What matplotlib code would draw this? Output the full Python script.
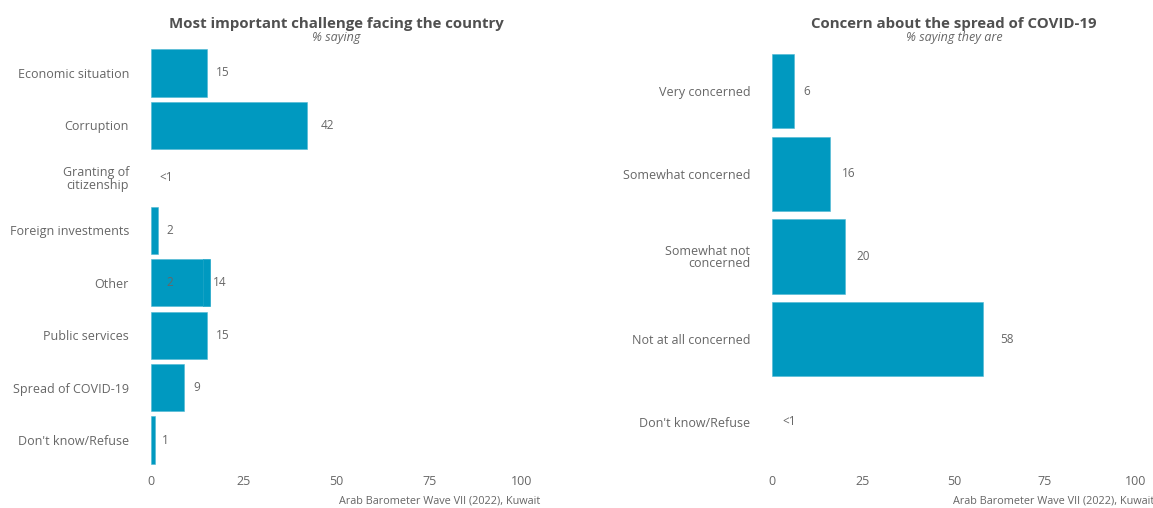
import matplotlib
matplotlib.use("Agg")
import matplotlib.pyplot as plt

plt.rcParams['font.family'] = ['Open Sans', 'DejaVu Sans']

# left panel data
challenges = ["Economic situation", "Corruption", "Granting of\ncitizenship",
              "Foreign investments", "Other", "Public services",
              "Spread of COVID-19", "Don't know/Refuse"]
challenge_vals = [15, 42, 0.3, 2, 14, 15, 9, 1]
challenge_lbls = ["15", "42", "<1", "2", "14", "15", "9", "1"]
# "Other" has a second stacked piece
other_extra = 2
other_extra_lbl = "2"

# right panel data
concern = ["Very concerned", "Somewhat concerned", "Somewhat not\nconcerned",
           "Not at all concerned", "Don't know/Refuse"]
concern_vals = [6, 16, 20, 58, 0.3]
concern_lbls = ["6", "16", "20", "58", "<1"]

ticks = [0, 25, 50, 75, 100]
bar_col = '#0099c0'
edge_col = '#4db8d3'
txt_col = '#666666'
title_col = '#505050'
caption = "Arab Barometer Wave VII (2022), Kuwait"

fig = plt.figure(figsize=(11.53, 5.08), dpi=100)
ax1 = fig.add_axes([0.1149, 0.0719, 0.3539, 0.8465])
ax2 = fig.add_axes([0.6538, 0.0719, 0.3471, 0.8465])


def panel(ax, cats, vals, lbls, title, sub, offset):
    n = len(cats)
    y = list(range(n))
    for yi, v, l in zip(y, vals, lbls):
        if l != "<1":
            ax.barh(yi, v, height=0.9, color=bar_col, edgecolor=edge_col, linewidth=0.4)
        ax.text(v + offset + 0.04 * v, yi, l, ha='left', va='center',
                fontsize=8.5, color=txt_col)
    ax.set_yticks(y)
    ax.set_yticklabels(cats, fontsize=9, color=txt_col, linespacing=0.95,
                       multialignment='right')
    ax.set_xticks(ticks)
    ax.set_xticklabels([str(t) for t in ticks], fontsize=9, color=txt_col)
    ax.set_xlim(-5, 105)
    ax.set_ylim(n - 0.4, -0.6)
    ax.tick_params(length=0, pad=2.5)
    for s in ax.spines.values():
        s.set_visible(False)
    ax.text(0.5, 1.024, title, transform=ax.transAxes, ha='center', va='bottom',
            fontsize=10.8, fontweight='bold', color=title_col)
    ax.text(0.5, 0.995, sub, transform=ax.transAxes, ha='center', va='bottom',
            fontsize=9, style='italic', color=txt_col)
    ax.text(1.0, -0.068, caption, transform=ax.transAxes, ha='right', va='center',
            fontsize=7.8, color=txt_col)


panel(ax1, challenges, challenge_vals, challenge_lbls,
      "Most important challenge facing the country", "% saying", 2.0)
# stacked extra piece on "Other"
oi = challenges.index("Other")
ax1.barh(oi, other_extra, left=challenge_vals[oi], height=0.9, color=bar_col,
         edgecolor=bar_col, linewidth=0.4)
ax1.text(other_extra + 2.0 + 0.04 * other_extra, oi, other_extra_lbl, ha='left',
         va='center', fontsize=8.5, color=txt_col)

panel(ax2, concern, concern_vals, concern_lbls,
      "Concern about the spread of COVID-19", "% saying they are", 2.5)

fig.savefig("out.png", dpi=100)
